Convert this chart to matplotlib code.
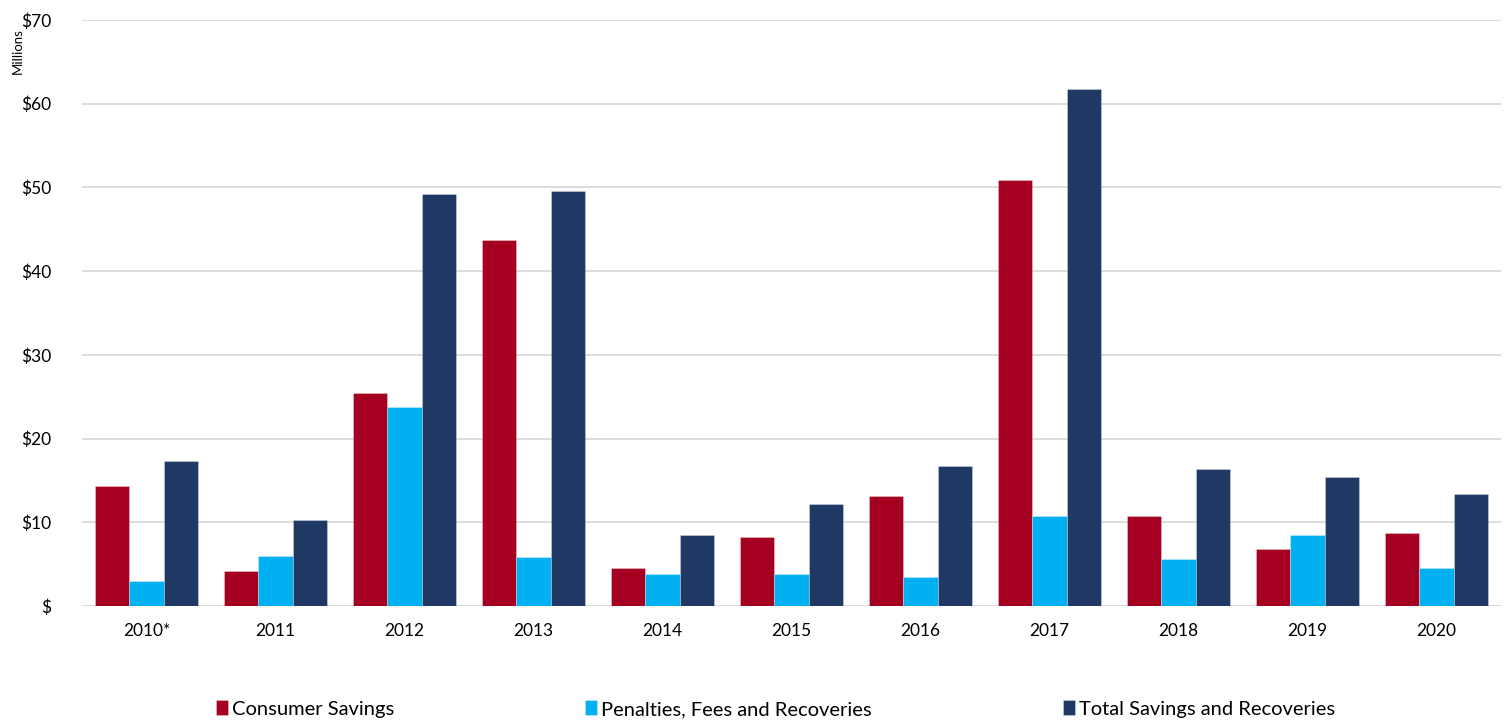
import matplotlib.pyplot as plt
import numpy as np

years = ["2010*", "2011", "2012", "2013", "2014", "2015", "2016", "2017", "2018", "2019", "2020"]
consumer_savings = [14.3, 4.2, 25.4, 43.7, 4.5, 8.3, 13.2, 50.9, 10.7, 6.8, 8.7]
penalties_fees = [3.0, 6.0, 23.8, 5.9, 3.8, 3.8, 3.5, 10.8, 5.6, 8.5, 4.6]
total_savings = [17.3, 10.3, 49.2, 49.6, 8.5, 12.2, 16.7, 61.8, 16.4, 15.4, 13.4]

y_ticks = [0, 10, 20, 30, 40, 50, 60, 70]
y_labels = ["$", "$10", "$20", "$30", "$40", "$50", "$60", "$70"]

series = [
    ("Consumer Savings", consumer_savings, "#A50021"),
    ("Penalties, Fees and Recoveries", penalties_fees, "#00B0F0"),
    ("Total Savings and Recoveries", total_savings, "#203864"),
]

plt.rcParams['font.family'] = ['Lato', 'DejaVu Sans']

fig = plt.figure(figsize=(15.09, 7.23), dpi=100)
ax = fig.add_axes([0.0543, 0.1618, 0.9404, 0.8105])

x = np.arange(len(years))
width = 0.8 / 3
for i, (name, values, color) in enumerate(series):
    ax.bar(x + (i - 1) * width, values, width, color=color, label=name,
           edgecolor=(1, 1, 1, 0.35), linewidth=0.6, zorder=3)

ax.set_xlim(-0.5, len(years) - 0.5)
ax.set_ylim(0, 70)
ax.set_yticks(y_ticks)
ax.set_yticklabels(y_labels, fontsize=12.5)
ax.set_xticks(x)
ax.set_xticklabels(years, fontsize=12.5)
ax.tick_params(axis='both', length=0, colors='black')
ax.tick_params(axis='y', pad=22)
ax.tick_params(axis='x', pad=12)
ax.grid(axis='y', color='#d9d9d9', linewidth=1.3, zorder=0)
for s in ax.spines.values():
    s.set_visible(False)

fig.text(0.012, 0.93, "Millions", rotation=90, fontsize=9.5, ha='center', va='center')

fig.legend(loc='lower center', bbox_to_anchor=(0.514, -0.018), ncol=3, frameon=False,
           fontsize=14.5, handlelength=0.6, handleheight=0.75, handletextpad=0.2,
           columnspacing=9.5)

fig.savefig("out.png", dpi=100)
